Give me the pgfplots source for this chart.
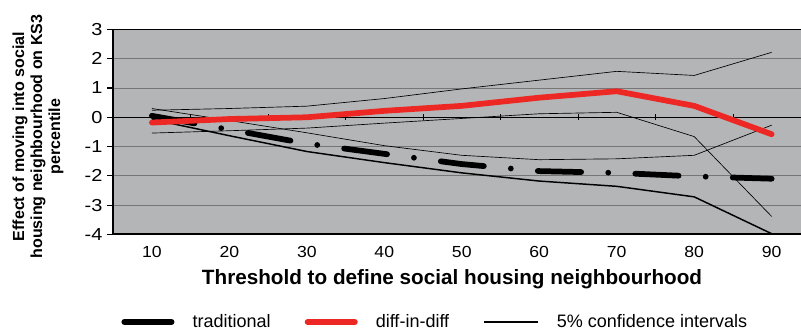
\documentclass[border=0pt]{standalone}
\usepackage{fontspec}
\setmainfont{Liberation Sans}
\usepackage{graphicx}
\usepackage{pgfplots}
\usepackage{pgfplotstable}
\pgfplotsset{compat=1.18}
\definecolor{bg}{RGB}{180,181,183}
\definecolor{gridc}{RGB}{118,118,118}
\definecolor{redl}{RGB}{237,40,36}
\newcommand\W[1]{\scalebox{1.15}[1]{#1}}
\newcommand\X[1]{\scalebox{1.1}[1]{#1}}
\pgfplotstableread{
x  trad  did   tU    tL    dU    dL
10 0.05  -0.18 0.30  -0.07 0.24  -0.54
20 -0.42 -0.06 -0.11 -0.63 0.30  -0.46
30 -0.90 0.00  -0.53 -1.17 0.38  -0.37
40 -1.25 0.22  -0.97 -1.55 0.64  -0.20
50 -1.60 0.39  -1.30 -1.90 0.97  -0.04
60 -1.84 0.67  -1.45 -2.18 1.27  0.12
70 -1.90 0.89  -1.42 -2.36 1.57  0.17
80 -2.02 0.39  -1.30 -2.72 1.43  -0.66
90 -2.10 -0.58 -0.27 -3.98 2.22  -3.39
}\data
\begin{document}
\begin{tikzpicture}
\begin{axis}[
  at={(0,0)}, anchor=south west, scale only axis,
  width=522.3pt, height=153.4pt,
  xmin=5, xmax=95, ymin=-4, ymax=3,
  axis background/.style={fill=bg},
  axis line style={black, line width=1.2pt},
  xtick={10,20,...,90},
  xticklabels={\X{10},\X{20},\X{30},\X{40},\X{50},\X{60},\X{70},\X{80},\X{90}},
  major x tick style={draw=none},
  xticklabel style={font=\fontsize{12}{12}\selectfont, yshift=-1pt},
  ytick={-4,-3,...,3},
  yticklabels={\W{-4},\W{-3},\W{-2},\W{-1},\W{0},\W{1},\W{2},\W{3}},
  yticklabel style={font=\fontsize{13}{13}\selectfont},
  ytick pos=left, tick align=outside, major tick length=4.5pt,
  major y tick style={black, line width=0.8pt},
  ymajorgrids, grid style={gridc, line width=0.6pt},
  xlabel={Threshold to define social housing neighbourhood},
  xlabel style={font=\bfseries\fontsize{15.5}{17}\selectfont, at={(axis description cs:0.486,-0.2185)}, anchor=center},
  ylabel={Effect of moving into social\\housing neighbourhood on KS3\\percentile},
  ylabel style={font=\bfseries\fontsize{12}{13.5}\selectfont, align=center, at={(axis description cs:-0.1077,0.477)}, anchor=center},
  legend style={at={(axis description cs:0.0115,-0.428)}, anchor=west, draw=none, fill=none,
    font=\fontsize{13.5}{15}\selectfont, inner sep=0pt, nodes={inner sep=0pt},
    /tikz/every odd column/.append style={column sep=13.5pt},
    /tikz/every even column/.append style={column sep=25.5pt}},
  legend columns=3,
]
\draw[black, line width=0.8pt] (axis cs:5,0) -- (axis cs:95,0);
\pgfplotsinvokeforeach{15,25,35,45,55,65,75,85}{
  \draw[black, line width=0.5pt] (axis cs:#1,-0.1) -- (axis cs:#1,0.12);
}
\addplot[black, line width=0.5pt, forget plot] table[x=x,y=dU]{\data};
\addplot[black, line width=0.5pt, forget plot] table[x=x,y=dL]{\data};
\addplot[black, line width=0.5pt, forget plot] table[x=x,y=tU]{\data};
\addplot[black, line width=1.1pt, forget plot] table[x=x,y=tL]{\data};
\addplot[black, line width=4.3pt, line cap=round, line join=round,
  dash pattern=on 32.45pt off 20.3pt on 0pt off 20.3pt, forget plot] table[x=x,y=trad]{\data};
\addplot[redl, line width=4.3pt, line cap=round, line join=round, forget plot] table[x=x,y=did]{\data};
\addlegendimage{legend image code/.code={\draw[black,line width=4.5pt,line cap=round] (0pt,0pt) -- (35.25pt,0pt);}}
\addlegendentry{traditional}
\addlegendimage{legend image code/.code={\draw[redl,line width=4.5pt,line cap=round] (0pt,0pt) -- (35.25pt,0pt);}}
\addlegendentry{diff-in-diff}
\addlegendimage{legend image code/.code={\draw[black,line width=1.1pt] (0pt,0pt) -- (40.5pt,0pt);}}
\addlegendentry{5\% confidence intervals}
\end{axis}
\pgfresetboundingbox
\useasboundingbox (-84.75pt,-74.25pt) rectangle (515.25pt,175.5pt);
\end{tikzpicture}
\end{document}
